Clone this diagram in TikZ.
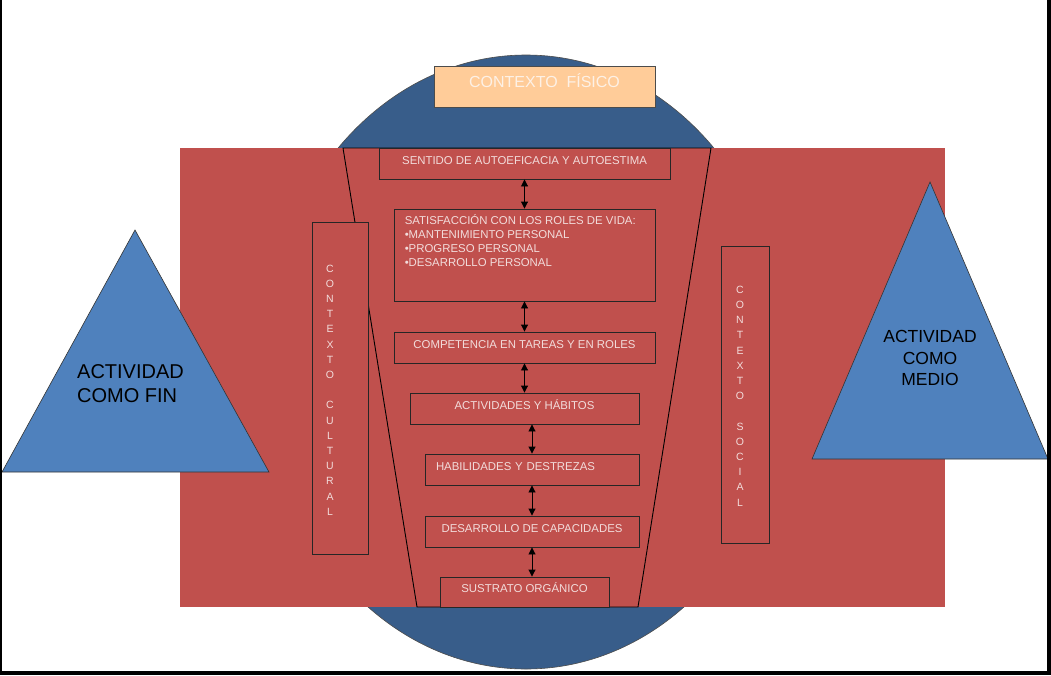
\documentclass[tikz,border=0pt]{standalone}
\usepackage{fontspec}
\setmainfont{Liberation Sans}
\usepackage{tikz}
\usetikzlibrary{arrows.meta}

\definecolor{fondorojo}{HTML}{C0504D}
\definecolor{azulcirc}{HTML}{385D8A}
\definecolor{azultri}{HTML}{4F81BD}
\definecolor{durazno}{HTML}{FFCC99}
\definecolor{textorosa}{HTML}{F2DCDB}
\definecolor{textoclaro}{HTML}{FDF1E6}

\tikzset{
  nivel/.style={draw=black!85, line width=0.9pt, fill=fondorojo, text=textorosa,
    font=\fontsize{11.4}{13.7}\selectfont, inner sep=0pt, text height=8pt, text depth=7pt},
  contexto/.style={draw=black!85, line width=0.9pt, fill=fondorojo, inner sep=0pt},
  letras/.style={text=textorosa, font=\fontsize{10.5}{15.2}\selectfont, align=center, inner sep=0pt},
  flecha/.style={{Triangle[length=7pt,width=7pt]}-{Triangle[length=7pt,width=7pt]}, line width=0.9pt},
  triangulo/.style={draw=black!80, line width=0.6pt, fill=azultri}
}

\begin{document}
\begin{tikzpicture}[x=1pt,y=-1pt]
        \useasboundingbox (0,0) rectangle (1051,675);
        \fill[white] (0,0) rectangle (1051,675);

        \draw[draw=black!70, line width=0.6pt, fill=azulcirc] (526,362) ellipse [x radius=262, y radius=307];
        \fill[fondorojo] (180,148) rectangle (945,607);
        \draw[line width=0.9pt, fill=fondorojo] (343,148) -- (711,148) -- (638,607) -- (417,607) -- cycle;

        \node[nivel, minimum width=291pt, minimum height=31pt] (sentido) at (524.5,163.5) {SENTIDO DE AUTOEFICACIA Y AUTOESTIMA};
        \node[contexto, minimum width=261pt, minimum height=92pt] (satisf) at (524.5,255) {};
        \node[anchor=north west, inner sep=0pt, align=left, text=textorosa, font=\fontsize{11.4}{13.7}\selectfont]
          (satisftxt) at ([xshift=11pt,yshift=-6.3pt]satisf.north west)
          {SATISFACCIÓN CON LOS ROLES DE VIDA:\\•MANTENIMIENTO PERSONAL\\•PROGRESO PERSONAL\\•DESARROLLO PERSONAL};
        \node[nivel, minimum width=261pt, minimum height=31pt] (compet) at (524.5,347.5) {COMPETENCIA EN TAREAS Y EN ROLES};
        \node[nivel, minimum width=229pt, minimum height=31pt] (activ) at (524.5,408.5) {ACTIVIDADES Y HÁBITOS};
        \node[nivel, text width=192pt, inner xsep=11pt, align=left, minimum height=31pt] (habil) at (532,469.5) {HABILIDADES Y DESTREZAS};
        \node[nivel, minimum width=214pt, minimum height=31pt] (capac) at (532,531.5) {DESARROLLO DE CAPACIDADES};
        \node[nivel, minimum width=169pt, minimum height=30pt] (sustrato) at (524.5,592) {SUSTRATO ORGÁNICO};

        \draw[flecha] (sentido.south) -- (satisf.north);
        \draw[flecha] (satisf.south) -- (compet.north);
        \draw[flecha] (compet.south) -- (activ.north);
        \draw[flecha] (activ.south -| habil.north) -- (habil.north);
        \draw[flecha] (habil.south) -- (capac.north);
        \draw[flecha] (capac.south) -- (capac.south |- sustrato.north);

        \node[contexto, minimum width=56pt, minimum height=332pt] (cultural) at (340,388) {};
        \node[letras] (culturaltxt) at (330,390) {C\\O\\N\\T\\E\\X\\T\\O\\[15.2pt]C\\U\\L\\T\\U\\R\\A\\L};
        \node[contexto, minimum width=48pt, minimum height=297pt] (social) at (745,394.5) {};
        \node[letras] (socialtxt) at (740,396) {C\\O\\N\\T\\E\\X\\T\\O\\[15.2pt]S\\O\\C\\I\\A\\L};

        \node[draw=black!70, line width=0.9pt, fill=durazno, text=textoclaro, minimum width=221pt, minimum height=41pt,
          inner sep=0pt, font=\fontsize{16}{19}\selectfont, text height=11.5pt, text depth=9pt]
          (fisico) at (544.5,86.5) {CONTEXTO\ \ FÍSICO};

        \draw[triangulo] (135,230) -- (269,472) -- (2,472) -- cycle;
        \node[align=left, inner sep=0pt, font=\fontsize{20}{24}\selectfont] (fin) at (130.5,384) {ACTIVIDAD\\COMO FIN};
        \draw[triangulo] (930,182) -- (1048,459) -- (812,459) -- cycle;
        \node[align=center, inner sep=0pt, font=\fontsize{17.5}{21.5}\selectfont] (medio) at (930,358) {ACTIVIDAD\\COMO\\MEDIO};

        \fill[black] (0,0) rectangle (1.5,675);
        \fill[black] (1047,0) rectangle (1051,675);
        \fill[black] (0,671) rectangle (1051,675);
      \end{tikzpicture}
\end{document}
